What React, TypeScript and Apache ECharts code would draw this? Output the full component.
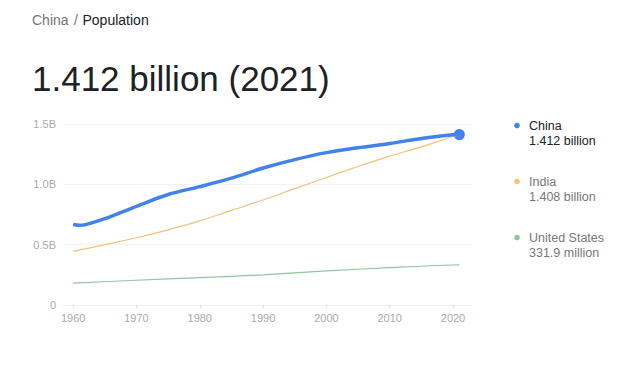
import React, { useEffect, useRef } from "react";
import * as echarts from "echarts";

const chinaYears = [1960, 1961, 1962, 1965, 1970, 1975, 1980, 1985, 1990, 1995, 2000, 2005, 2010, 2015, 2020, 2021];
const chinaValues = [0.667, 0.660, 0.666, 0.715, 0.818, 0.916, 0.981, 1.051, 1.135, 1.205, 1.263, 1.304, 1.338, 1.380, 1.411, 1.412];
const indiaYears = [1960, 1965, 1970, 1975, 1980, 1985, 1990, 1995, 2000, 2005, 2010, 2015, 2020, 2021];
const indiaValues = [0.445, 0.500, 0.557, 0.623, 0.697, 0.784, 0.870, 0.964, 1.057, 1.148, 1.234, 1.310, 1.396, 1.408];
const usYears = [1960, 1970, 1980, 1990, 2000, 2010, 2020, 2021];
const usValues = [0.1807, 0.2052, 0.2272, 0.2496, 0.2822, 0.3093, 0.3315, 0.3319];
const xTicks = [1960, 1970, 1980, 1990, 2000, 2010, 2020];
const legendNames = ["China", "India", "United States"];
const legendValues = ["1.412 billion", "1.408 billion", "331.9 million"];

const FONT = "'Liberation Sans', Arial, sans-serif";
const colors = { china: "#4282ec", india: "#f2c277", us: "#8fc6a0" };

const zip = (xs: number[], ys: number[]) => xs.map((x, i) => [x, ys[i]]);

export default function App() {
  const ref = useRef<HTMLDivElement>(null);
  useEffect(() => {
    if (!ref.current) return;
    const chart = echarts.init(ref.current, null, { renderer: "svg" });
    const legendColors = [colors.china, colors.india, colors.us];
    const legendGraphics: any[] = [];
    legendNames.forEach((name, i) => {
      const y = 125.5 + i * 56;
      const dark = i === 0;
      legendGraphics.push({
        type: "circle",
        shape: { cx: 517, cy: y, r: 2.8 },
        style: { fill: legendColors[i] },
      });
      legendGraphics.push({
        type: "text",
        x: 529,
        y: y,
        style: { text: name, fill: dark ? "#202124" : "#777", font: `12.5px ${FONT}`, verticalAlign: "middle" },
      });
      legendGraphics.push({
        type: "text",
        x: 529,
        y: y + 15.5,
        style: { text: legendValues[i], fill: dark ? "#202124" : "#777", font: `12.5px ${FONT}`, verticalAlign: "middle" },
      });
    });
    chart.setOption({
      animation: false,
      grid: { left: 63, right: 168, top: 124, bottom: 66, containLabel: false },
      xAxis: {
        type: "value",
        min: 1958.4,
        max: 2023,
        axisLine: { show: true, lineStyle: { color: "#eeeeee" } },
        axisTick: { show: true, length: 3, lineStyle: { color: "#dddddd" }, customValues: xTicks },
        axisLabel: { color: "#aaaaaa", fontSize: 11, fontFamily: FONT, margin: 7, customValues: xTicks, formatter: (v: number) => String(v) },
        splitLine: { show: false },
      },
      yAxis: {
        type: "value",
        min: 0,
        max: 1.5,
        interval: 0.5,
        axisLine: { show: false },
        axisTick: { show: false },
        axisLabel: {
          color: "#aaaaaa",
          fontSize: 11,
          fontFamily: FONT,
          margin: 7,
          formatter: (v: number) => (v === 0 ? "0" : v.toFixed(1) + "B"),
        },
        splitLine: { lineStyle: { color: "#f2f2f2" } },
      },
      series: [
        {
          type: "line",
          data: zip(usYears, usValues),
          smooth: 0.3,
          symbol: "none",
          lineStyle: { color: colors.us, width: 1.2 },
        },
        {
          type: "line",
          data: zip(indiaYears, indiaValues),
          smooth: 0.3,
          symbol: "none",
          lineStyle: { color: colors.india, width: 1.2 },
        },
        {
          type: "line",
          data: zip(chinaYears, chinaValues),
          smooth: 0.3,
          symbol: "none",
          lineStyle: { color: colors.china, width: 3.5 },
        },
        {
          type: "scatter",
          data: [[chinaYears[chinaYears.length - 1], chinaValues[chinaValues.length - 1]]],
          symbolSize: 11,
          itemStyle: { color: colors.china, opacity: 1 },
        },
      ],
      graphic: [
        {
          type: "text",
          x: 32,
          y: 20,
          style: { text: "China", fill: "#70757a", font: `14px ${FONT}`, verticalAlign: "middle" },
        },
        {
          type: "text",
          x: 74,
          y: 20,
          style: { text: "/", fill: "#70757a", font: `14px ${FONT}`, verticalAlign: "middle" },
        },
        {
          type: "text",
          x: 82.5,
          y: 20,
          style: { text: "Population", fill: "#202124", font: `14px ${FONT}`, verticalAlign: "middle" },
        },
        {
          type: "text",
          x: 32,
          y: 78,
          style: { text: "1.412 billion (2021)", fill: "#202124", font: `35px ${FONT}`, verticalAlign: "middle" },
        },
        ...legendGraphics,
      ],
    });
    return () => chart.dispose();
  }, []);
  return <div ref={ref} style={{ position: "absolute", left: 0, top: 0, width: 640, height: 371, background: "#fff" }} />;
}
